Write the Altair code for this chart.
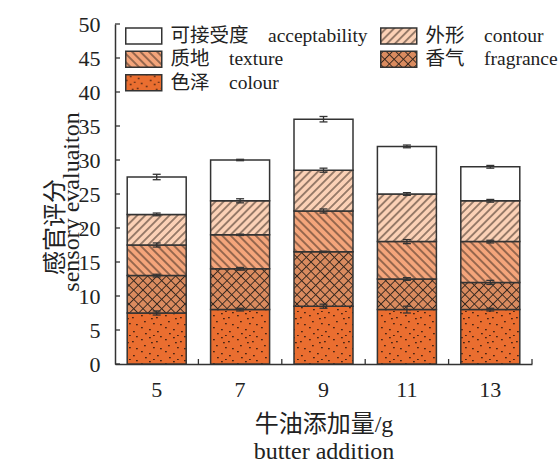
import altair as alt
import pandas as pd
import jinja2

# Butter addition levels (g)
additions = ["5", "7", "9", "11", "13"]

# Sensory attributes, listed from the bottom of each stack to the top
attr_colour = "色泽\u3000colour"
attr_fragrance = "香气\u3000fragrance"
attr_texture = "质地\u3000texture"
attr_contour = "外形\u3000contour"
attr_accept = "可接受度\u3000acceptability"
stack_order = [attr_colour, attr_fragrance, attr_texture, attr_contour, attr_accept]
# legend fills column by column: left column first, then right column
legend_order = [attr_accept, attr_texture, attr_colour, attr_contour, attr_fragrance]

# Score of each attribute (segment heights)
colour = [7.5, 8.0, 8.5, 8.0, 8.0]
fragrance = [5.5, 6.0, 8.0, 4.5, 4.0]
texture = [4.5, 5.0, 6.0, 5.5, 6.0]
contour = [4.5, 5.0, 6.0, 7.0, 6.0]
acceptability = [5.5, 6.0, 7.5, 7.0, 5.0]

# Standard deviations of each attribute
colour_sd = [0.3, 0.2, 0.3, 0.5, 0.2]
fragrance_sd = [0.2, 0.2, 0.1, 0.2, 0.3]
texture_sd = [0.3, 0.1, 0.3, 0.3, 0.2]
contour_sd = [0.2, 0.3, 0.3, 0.2, 0.2]
acceptability_sd = [0.4, 0.1, 0.4, 0.2, 0.2]

y_ticks = [0, 5, 10, 15, 20, 25, 30, 35, 40, 45, 50]

# y-axis title, Chinese line and English line
y_title_cn = "感官评分"
y_title_en = "sensory evaluaiton"

scores = [colour, fragrance, texture, contour, acceptability]
sds = [colour_sd, fragrance_sd, texture_sd, contour_sd, acceptability_sd]

rows = []
for i, g in enumerate(additions):
    base = 0.0
    for name, vals, errs in zip(stack_order, scores, sds):
        top = base + vals[i]
        rows.append({"addition": g, "attribute": name, "lo": base, "hi": top,
                     "err_lo": top - errs[i], "err_hi": top + errs[i]})
        base = top
df = pd.DataFrame(rows)

# SVG fill patterns used by the bars and legend symbols
fills = {
    attr_accept: "#ffffff",
    attr_contour: "url(#fill-contour)",
    attr_texture: "url(#fill-texture)",
    attr_fragrance: "url(#fill-fragrance)",
    attr_colour: "url(#fill-colour)",
}

INK = "#333333"
TEXT = "#222222"
FONT = "Liberation Serif, Noto Sans CJK SC"

# shared scales and axes, repeated on every layer so they merge cleanly
x_scale = alt.Scale(paddingInner=0, paddingOuter=0)
x_axis = alt.Axis(title=["牛油添加量/g", "butter addition"], labelAngle=0,
                  tickSize=0, labelPadding=15, titlePadding=12,
                  titleFontSize=24, titleLineHeight=27)
y_scale = alt.Scale(domain=[0, 50], nice=False, zero=True)
y_axis = alt.Axis(title=None, values=y_ticks,
                  tickSize=0, labelPadding=15, labelOverlap=False)


def xe(**kw):
    return alt.X("addition:N", sort=additions, scale=x_scale, axis=x_axis, **kw)


def ye(field):
    return alt.Y(field, scale=y_scale, axis=y_axis)


base = alt.Chart(df)

bars = base.mark_bar(width=59, stroke=INK, strokeWidth=1.5, opacity=1).encode(
    x=xe(),
    y=ye("lo:Q"),
    y2="hi:Q",
    fill=alt.Fill("attribute:N",
                  scale=alt.Scale(domain=legend_order, range=[fills[a] for a in legend_order]),
                  legend=alt.Legend(title=None, orient="none", legendX=19, legendY=2,
                                    columns=2, columnPadding=9, rowPadding=0.5,
                                    symbolType="M-2.25,-1H2.25V1H-2.25Z", symbolSize=256,
                                    symbolStrokeColor=INK, symbolStrokeWidth=1.5,
                                    labelFont=FONT, labelFontSize=19.5, labelColor=TEXT,
                                    labelOffset=17, labelLimit=400, padding=0)),
)

# error bars: vertical whisker plus caps
err_rule = base.mark_rule(color=INK, strokeWidth=1.3).encode(
    x=xe(), y=ye("err_lo:Q"), y2="err_hi:Q")
cap_lo = base.mark_tick(color=INK, size=8, thickness=1.3, opacity=1).encode(
    x=xe(), y=ye("err_lo:Q"))
cap_hi = base.mark_tick(color=INK, size=8, thickness=1.3, opacity=1).encode(
    x=xe(), y=ye("err_hi:Q"))

# inward-pointing ticks on both axes
y_tick_marks = alt.Chart(pd.DataFrame({"v": y_ticks})).mark_rule(
    color=INK, strokeWidth=1.3).encode(
    y=ye("v:Q"), x=alt.value(0), x2=alt.value(5))
x_tick_marks = alt.Chart(pd.DataFrame({"addition": additions})).mark_rule(
    color=INK, strokeWidth=1.3).encode(
    x=xe(bandPosition=1),
    y=alt.value(340), y2=alt.value(335))

# two-line y-axis title, written bottom to top
title_cn = alt.Chart(pd.DataFrame({"t": [y_title_cn]})).mark_text(
    angle=270, align="center", baseline="middle", font=FONT, fontSize=24, color=TEXT
).encode(text="t:N", x=alt.value(-59), y=alt.value(203))
title_en = alt.Chart(pd.DataFrame({"t": [y_title_en]})).mark_text(
    angle=270, align="center", baseline="middle", font=FONT, fontSize=24, color=TEXT
).encode(text="t:N", x=alt.value(-43), y=alt.value(178))

chart = alt.layer(bars, err_rule, cap_lo, cap_hi, y_tick_marks, x_tick_marks,
                  title_cn, title_en).properties(
    width=417, height=340,
    autosize=alt.AutoSizeParams(type="none"),
    padding={"left": 115, "top": 24, "right": 27, "bottom": 98},
).configure_view(stroke=None).configure_axis(
    domainColor=INK, domainWidth=1.5, grid=False,
    labelFont=FONT, labelFontSize=22, labelColor=TEXT,
    titleFont=FONT, titleColor=TEXT, titleFontWeight="normal",
)

PAGE = jinja2.Template("""<!DOCTYPE html>
<html>
<head>
  <meta charset="utf-8">
  <style>
    body { margin: 0; }
    #{{ output_div }}.vega-embed { width: 100%; display: flex; }
  </style>
  <script type="text/javascript" src="{{ base_url }}/vega@{{ vega_version }}"></script>
  <script type="text/javascript" src="{{ base_url }}/vega-lite@{{ vegalite_version }}"></script>
  <script type="text/javascript" src="{{ base_url }}/vega-embed@{{ vegaembed_version }}"></script>
</head>
<body>
  <svg width="0" height="0" style="position:absolute">
    <defs>
      <pattern id="fill-contour" patternUnits="userSpaceOnUse" width="5.7" height="5.7" patternTransform="rotate(45)">
        <rect width="5.7" height="5.7" fill="#fbd1b6"/>
        <line x1="2.85" y1="0" x2="2.85" y2="5.7" stroke="#3a2a20" stroke-width="1"/>
      </pattern>
      <pattern id="fill-texture" patternUnits="userSpaceOnUse" width="5.9" height="5.9" patternTransform="rotate(-45)">
        <rect width="5.9" height="5.9" fill="#f4a57b"/>
        <line x1="2.95" y1="0" x2="2.95" y2="5.9" stroke="#3a2a20" stroke-width="1"/>
      </pattern>
      <pattern id="fill-fragrance" patternUnits="userSpaceOnUse" width="6.6" height="6.6" patternTransform="rotate(45)">
        <rect width="6.6" height="6.6" fill="#da8b5f"/>
        <line x1="3.3" y1="0" x2="3.3" y2="6.6" stroke="#3a2a20" stroke-width="1"/>
        <line x1="0" y1="3.3" x2="6.6" y2="3.3" stroke="#3a2a20" stroke-width="1"/>
      </pattern>
      <pattern id="fill-colour" patternUnits="userSpaceOnUse" width="24" height="24">
        <rect width="24" height="24" fill="#ea6e30"/>
        <g fill="#4a2412">
          <rect x="2" y="3" width="1.8" height="1.3"/>
          <rect x="10" y="1" width="1.8" height="1.3"/>
          <rect x="17" y="5" width="1.8" height="1.3"/>
          <rect x="5" y="9" width="1.8" height="1.3"/>
          <rect x="14" y="11" width="1.8" height="1.3"/>
          <rect x="21" y="12" width="1.8" height="1.3"/>
          <rect x="2" y="15" width="1.8" height="1.3"/>
          <rect x="10" y="17" width="1.8" height="1.3"/>
          <rect x="18" y="19" width="1.8" height="1.3"/>
          <rect x="6" y="21" width="1.8" height="1.3"/>
          <rect x="14" y="23" width="1.8" height="1.3"/>
          <rect x="12" y="6" width="1.8" height="1.3"/>
          <rect x="21" y="0" width="1.8" height="1.3"/>
        </g>
      </pattern>
    </defs>
  </svg>
  <div id="{{ output_div }}"></div>
  <script>
    vegaEmbed("#{{ output_div }}", {{ spec }}, {{ embed_options }});
  </script>
</body>
</html>
""")

chart.save("out.html", embed_options={"renderer": "svg", "actions": False}, template=PAGE)
